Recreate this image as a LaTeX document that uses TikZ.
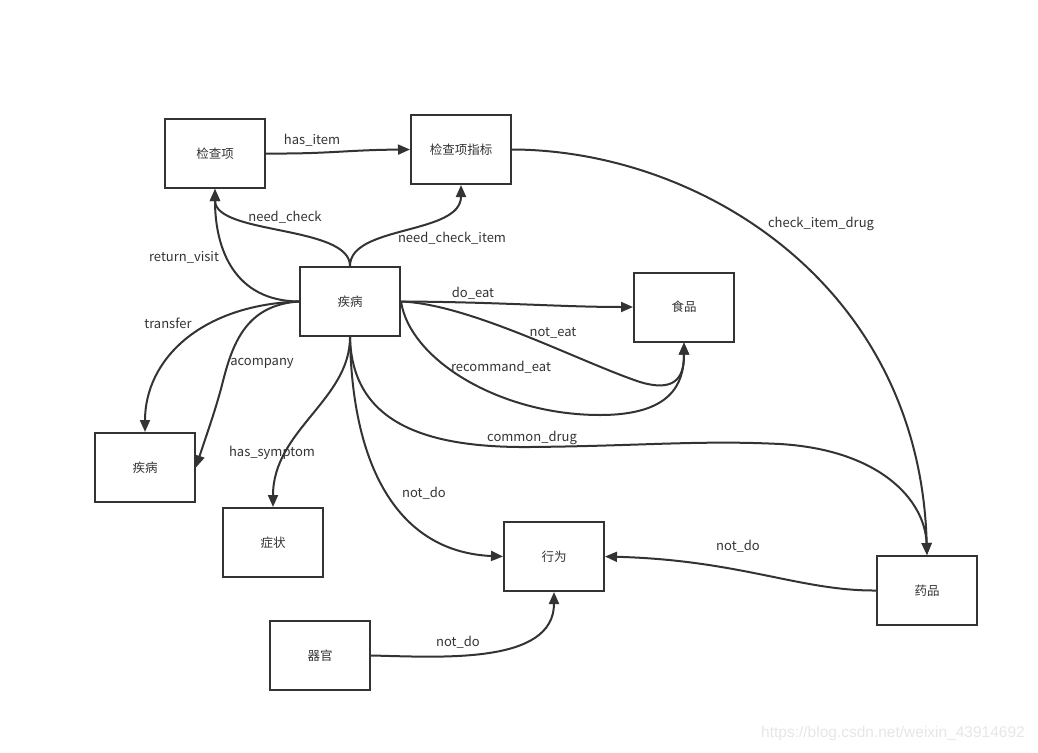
\documentclass[tikz,border=0pt]{standalone}
\usepackage{fontspec}
\setmainfont{Noto Sans CJK SC}
\newfontfamily\wmfont{Liberation Sans}
\usetikzlibrary{arrows.meta}
\definecolor{ink}{HTML}{333333}
\definecolor{wm}{HTML}{E6E6E6}
\tikzset{
  ent/.style={draw=ink, line width=2pt, minimum width=100pt, minimum height=69pt, inner sep=0pt, text=ink, font=\fontsize{12.5}{14}\selectfont},
  rel/.style={draw=ink, line width=2pt, -{Triangle[length=12pt,width=10pt]}},
  lbl/.style={text=ink, inner sep=0pt, font=\fontsize{13}{15}\selectfont},
}
\begin{document}
\begin{tikzpicture}[x=1pt,y=-1pt]
\useasboundingbox (0,0) rectangle (1038,752);
% entities
\node[ent] (jcx)   at (215,153.5) {检查项};
\node[ent] (jcxzb) at (461,149.5) {检查项指标};
\node[ent] (jb)    at (350,301.5) {疾病};
\node[ent] (sp)    at (684,307)   {食品};
\node[ent] (jb2)   at (145,467.5) {疾病};
\node[ent] (zz)    at (273,542.5) {症状};
\node[ent] (xw)    at (554,556.5) {行为};
\node[ent] (yp)    at (927,590.5) {药品};
\node[ent] (qg)    at (320,655.5) {器官};
% connectors
\draw[rel] (jcx.east) .. controls (330,154) and (345,150) .. (jcxzb.west);
\draw[rel] (jb.north) .. controls (350,225) and (215,235) .. (jcx.south);
\draw[rel] (jb.north) .. controls (350,225) and (461,235) .. (jcxzb.south);
\draw[rel] (jb.west) .. controls (235,301) and (215,250) .. (jcx.south);
\draw[rel] (jb.east) .. controls (500,302) and (560,307) .. (sp.west);
\draw[rel] (jb.east) .. controls (470,304) and (580,362) .. (640,382)
  .. controls (680,394) and (684,372) .. (sp.south);
\draw[rel] (jb.east) .. controls (410,360) and (500,415) .. (600,415)
  .. controls (670,415) and (684,385) .. (sp.south);
\draw[rel] (jb.west) .. controls (200,305) and (145,360) .. (jb2.north);
\draw[rel] (jb.west) .. controls (245,305) and (232,345) .. (222,385)
  .. controls (215,412) and (204,442) .. (jb2.east);
\draw[rel] (jb.south) .. controls (350,400) and (273,430) .. (zz.north);
\draw[rel] (jb.south) .. controls (352,470) and (400,552) .. (xw.west);
\draw[rel] (jb.south) .. controls (352,420) and (420,448) .. (530,447)
  .. controls (640,446) and (700,440) .. (780,444)
  .. controls (880,450) and (925,500) .. (yp.north);
\draw[rel] (jcxzb.east) .. controls (700,150) and (920,285) .. (yp.north);
\draw[rel] (yp.west) .. controls (800,591) and (740,560) .. (xw.east);
\draw[rel] (qg.east) .. controls (440,657) and (554,665) .. (xw.south);
% labels
\node[lbl] (l1)  at (312,140) {has\_item};
\node[lbl] (l2)  at (285,217) {need\_check};
\node[lbl] (l3)  at (452,238) {need\_check\_item};
\node[lbl] (l4)  at (184,257) {return\_visit};
\node[lbl] (l5)  at (473,293) {do\_eat};
\node[lbl] (l6)  at (553,333) {not\_eat};
\node[lbl] (l7)  at (501,367) {recommand\_eat};
\node[lbl] (l8)  at (168,323) {transfer};
\node[lbl] (l9)  at (262,363) {acompany};
\node[lbl] (l10) at (272,453) {has\_symptom};
\node[lbl] (l11) at (424,493) {not\_do};
\node[lbl] (l12) at (532,438) {common\_drug};
\node[lbl] (l13) at (821,224) {check\_item\_drug};
\node[lbl] (l14) at (738,546) {not\_do};
\node[lbl] (l15) at (458,642) {not\_do};
% watermark
\node[text=wm, inner sep=0pt, font=\wmfont\fontsize{15.5}{17}\selectfont] (wmk) at (893,733) {https://blog.csdn.net/weixin\_43914692};
\end{tikzpicture}
\end{document}
